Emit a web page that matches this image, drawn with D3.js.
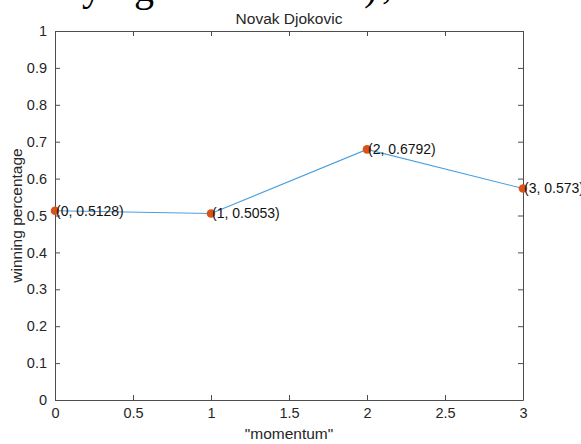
<!DOCTYPE html>
<html>
<head>
<meta charset="utf-8">
<script src="https://cdn.jsdelivr.net/npm/d3@7"></script>
<style>
  html, body { margin: 0; padding: 0; background: #fff; }
  svg { display: block; }
</style>
</head>
<body>
<script>
// Winning percentage against momentum level
const momentum = [0, 1, 2, 3];
const winPct = [0.5128, 0.5053, 0.6792, 0.573];
const pointLabels = ["(0, 0.5128)", "(1, 0.5053)", "(2, 0.6792)", "(3, 0.573)"];
const xTicks = [0, 0.5, 1, 1.5, 2, 2.5, 3];
const yTicks = [0, 0.1, 0.2, 0.3, 0.4, 0.5, 0.6, 0.7, 0.8, 0.9, 1];
const chartTitle = "Novak Djokovic";
const xTitle = "\"momentum\"";
const yTitle = "winning percentage";

const W = 581, H = 444;
const box = { left: 55, right: 523, top: 31, bottom: 400 };

const svg = d3.select("body").append("svg")
  .attr("width", W).attr("height", H)
  .style("font-family", "'Liberation Sans', Arial, sans-serif");

// Tail of the preceding line of body text, cut at the top edge:
// only the descenders reach into view
const prose = svg.append("g")
  .style("font-family", "'Liberation Serif', 'Times New Roman', serif")
  .style("font-size", "40px").attr("fill", "#000");
[["y", 82, 9], ["g", 134, 10], [")", 364, 9], [",", 382, 7]].forEach(([s, x, bottom]) => {
  const t = prose.append("text").attr("x", x).attr("y", 0).text(s);
  const bb = t.node().getBBox();
  t.attr("y", bottom - (bb.y + bb.height));
});

const x = d3.scaleLinear().domain([0, 3]).range([box.left, box.right]);
const y = d3.scaleLinear().domain([0, 1]).range([box.bottom, box.top]);

const axisColor = "#4d4d4d";
const textColor = "#262626";
const tickLen = 5;

function styleAxis(g) {
  g.select(".domain").attr("stroke", axisColor);
  g.selectAll(".tick line").attr("stroke", axisColor);
  g.selectAll(".tick text").attr("fill", textColor).style("font-size", "14.5px");
}

svg.append("g").attr("transform", `translate(0,${box.bottom})`)
  .call(d3.axisBottom(x).tickValues(xTicks).tickSizeInner(-tickLen).tickSizeOuter(0)
    .tickPadding(8).tickFormat(d3.format("")))
  .call(styleAxis);
svg.append("g").attr("transform", `translate(0,${box.top})`)
  .call(d3.axisTop(x).tickValues(xTicks).tickSizeInner(-tickLen).tickSizeOuter(0).tickFormat(""))
  .call(styleAxis);
svg.append("g").attr("transform", `translate(${box.left},0)`)
  .call(d3.axisLeft(y).tickValues(yTicks).tickSizeInner(-tickLen).tickSizeOuter(0)
    .tickPadding(8).tickFormat(d3.format("")))
  .call(styleAxis);
svg.append("g").attr("transform", `translate(${box.right},0)`)
  .call(d3.axisRight(y).tickValues(yTicks).tickSizeInner(-tickLen).tickSizeOuter(0).tickFormat(""))
  .call(styleAxis);

// Series line and markers
svg.append("path")
  .datum(momentum.map((m, i) => [m, winPct[i]]))
  .attr("fill", "none").attr("stroke", "#4a9fde").attr("stroke-width", 1.1)
  .attr("d", d3.line().x(d => x(d[0])).y(d => y(d[1])));

svg.append("g").selectAll("circle")
  .data(momentum)
  .join("circle")
  .attr("cx", (d) => x(d))
  .attr("cy", (d, i) => y(winPct[i]))
  .attr("r", 4.3)
  .attr("fill", "#d95319");

svg.append("g").selectAll("text")
  .data(momentum)
  .join("text")
  .attr("x", (d) => x(d) + 1)
  .attr("y", (d, i) => y(winPct[i]))
  .attr("dy", "0.35em")
  .attr("fill", "#111")
  .style("font-size", "14px")
  .text((d, i) => pointLabels[i]);

// Titles
svg.append("text").attr("x", (box.left + box.right) / 2).attr("y", 24)
  .attr("text-anchor", "middle").attr("fill", textColor).style("font-size", "15.5px")
  .text(chartTitle);
svg.append("text").attr("x", (box.left + box.right) / 2).attr("y", 439)
  .attr("text-anchor", "middle").attr("fill", textColor).style("font-size", "15.5px")
  .text(xTitle);
svg.append("text")
  .attr("transform", `translate(22,${(box.top + box.bottom) / 2}) rotate(-90)`)
  .attr("text-anchor", "middle").attr("fill", textColor).style("font-size", "15.5px")
  .text(yTitle);
</script>
</body>
</html>
